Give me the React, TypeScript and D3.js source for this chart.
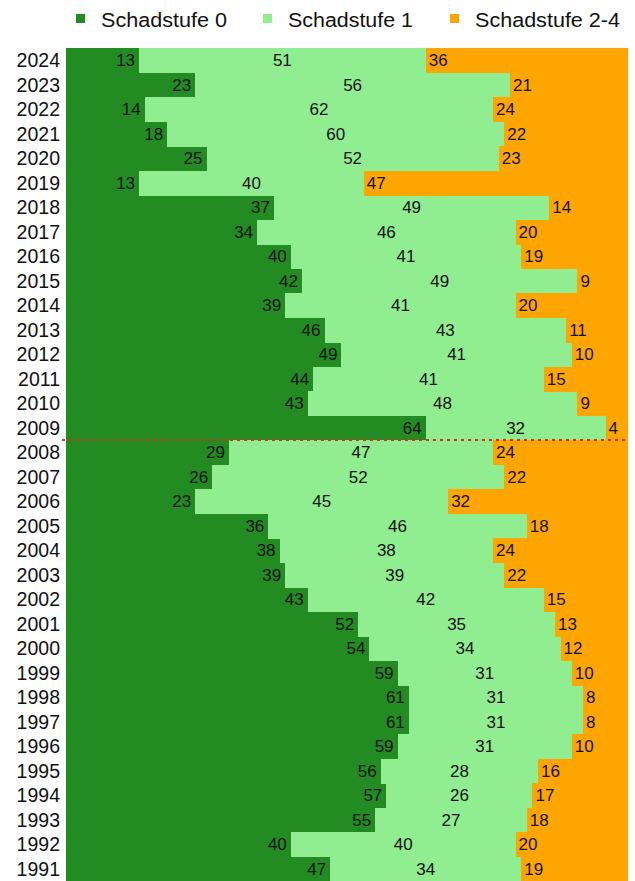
import React from "react";
import * as d3 from "d3";

const years = [
  "2024","2023","2022","2021","2020","2019","2018","2017","2016","2015","2014","2013","2012","2011","2010","2009",
  "2008","2007","2006","2005","2004","2003","2002","2001","2000","1999","1998","1997","1996","1995","1994","1993","1992","1991",
];
const stufe0 = [13,23,14,18,25,13,37,34,40,42,39,46,49,44,43,64,29,26,23,36,38,39,43,52,54,59,61,61,59,56,57,55,40,47];
const stufe1 = [51,56,62,60,52,40,49,46,41,49,41,43,41,41,48,32,47,52,45,46,38,39,42,35,34,31,31,31,31,28,26,27,40,34];
const stufe24 = [36,21,24,22,23,47,14,20,19,9,20,11,10,15,9,4,24,22,32,18,24,22,15,13,12,10,8,8,10,16,17,18,20,19];
const seriesNames = ["Schadstufe 0", "Schadstufe 1", "Schadstufe 2-4"];
const dividerAfter = "2009";

const colors = ["#228B22", "#90EE90", "#FFA500"];
const FONT = "'Liberation Sans', Arial, sans-serif";

export default function App() {
  const W = 635, H = 881;
  const rowH = 24.5;
  const top = 48;
  const x = d3.scaleLinear().domain([0, 100]).range([66, 628]);
  const y = d3.scaleBand<string>().domain(years).range([top, top + years.length * rowH]).padding(0);

  const rows = years.map((yr, i) => ({ year: yr, s0: stufe0[i], s1: stufe1[i], s2: stufe24[i] }));
  const stack = d3.stack<any>().keys(["s0", "s1", "s2"]);
  const layers = stack(rows);

  const divY = (y(dividerAfter) as number) + y.bandwidth();
  const legendX = [76, 263, 450];
  const legendW = [126, 125, 145];

  return (
    <svg width={W} height={H} style={{ position: "absolute", left: 0, top: 0 }} fontFamily={FONT}>
      <rect width={W} height={H} fill="#fff" />
      {layers.map((layer, li) => (
        <g key={li} fill={colors[li]}>
          {layer.map((d, i) => (
            <rect
              key={i}
              x={x(d[0])}
              y={y(d.data.year)}
              width={x(d[1]) - x(d[0])}
              height={y.bandwidth() + 0.5}
              shapeRendering="crispEdges"
            />
          ))}
        </g>
      ))}
      {layers.map((layer, li) => (
        <g key={"t" + li} fontSize={17} fill="#111">
          {layer.map((d, i) => {
            const v = d[1] - d[0];
            const cy = (y(d.data.year) as number) + y.bandwidth() / 2;
            let tx: number, anchor: string;
            if (li === 0) { tx = x(d[1]) - 4; anchor = "end"; }
            else if (li === 1) { tx = (x(d[0]) + x(d[1])) / 2; anchor = "middle"; }
            else { tx = x(d[0]) + 3; anchor = "start"; }
            return (
              <text key={i} x={tx} y={cy} dy="0.36em" textAnchor={anchor}>{v}</text>
            );
          })}
        </g>
      ))}
      <g fontSize={19.5} fill="#111" textAnchor="end">
        {years.map((yr) => (
          <text key={yr} x={60} y={(y(yr) as number) + y.bandwidth() / 2} dy="0.36em">{yr}</text>
        ))}
      </g>
      <line x1={62} x2={628} y1={divY} y2={divY} stroke="#dc2b22" strokeWidth={2} strokeDasharray="3,4" />
      <g fontSize={20} fill="#111">
        {seriesNames.map((n, i) => (
          <g key={n} transform={`translate(${legendX[i]},0)`}>
            <rect x={0} y={14} width={9} height={9} fill={colors[i]} />
            <text x={25} y={26.5} textLength={legendW[i]} lengthAdjust="spacingAndGlyphs">{n}</text>
          </g>
        ))}
      </g>
    </svg>
  );
}
